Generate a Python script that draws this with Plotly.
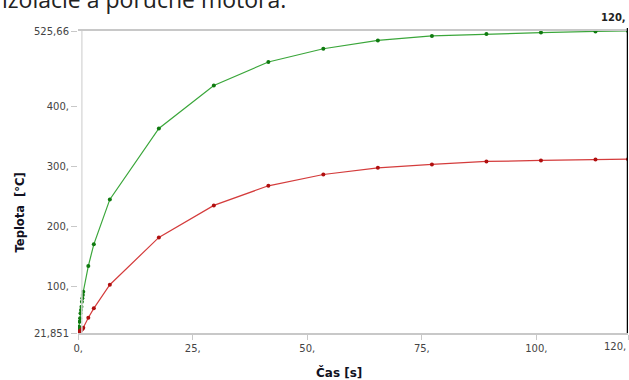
import plotly.graph_objects as go

# Data (time in s, temperature in °C)
time_s = [0, 0.1, 0.2, 0.3, 0.4, 0.5, 0.6, 0.7, 0.8, 0.9, 1.0, 1.1,
          2.2, 3.4, 6.9, 17.6, 29.6, 41.5, 53.5, 65.4, 77.2, 89.1, 101.0, 112.9, 120.0]
temp_max = [21.851, 26.9, 32.4, 40.7, 46.3, 54.7, 60.2, 65.7, 74.0, 79.7, 85.2, 90.7,
            133.5, 169.7, 244.7, 363.0, 434.7, 474.0, 496.0, 510.0, 517.4, 520.5, 523.0, 525.0, 525.66]
temp_min = [21.851, 22.6, 23.4, 24.2, 25.0, 25.8, 26.6, 27.4, 28.2, 29.0, 29.8, 30.6,
            47.4, 63.0, 102.4, 181.3, 234.7, 267.4, 286.3, 297.4, 303.0, 308.0, 309.7, 311.3, 311.8]

x_tickvals = [0, 25, 50, 75, 100, 120]
x_ticktext = ["0,", "25,", "50,", "75,", "100,", ""]
x_last_label = "120,"
y_tickvals = [21.851, 100, 200, 300, 400, 525.66]
y_ticktext = ["21,851", "100,", "200,", "300,", "400,", "525,66"]

fig = go.Figure()
fig.add_trace(go.Scatter(x=time_s, y=temp_max, mode="lines+markers",
                         line=dict(color="#3aa63a", width=1.2),
                         marker=dict(color="#0f7a0f", size=4), showlegend=False))
fig.add_trace(go.Scatter(x=time_s, y=temp_min, mode="lines+markers",
                         line=dict(color="#d43c3c", width=1.2),
                         marker=dict(color="#b00f0f", size=4), showlegend=False))

tick_font = dict(family="DejaVu Sans", size=10, color="#444444")

fig.update_layout(
    width=629, height=380,
    margin=dict(l=78, r=1, t=31, b=47),
    paper_bgcolor="white", plot_bgcolor="white",
    xaxis=dict(range=[-0.05, 120], tickvals=x_tickvals, ticktext=x_ticktext,
               showgrid=False, zeroline=False, showline=True, linecolor="#c8c8c8",
               linewidth=1.5, mirror=True, ticks="outside", ticklen=5, tickcolor="#c8c8c8",
               tickfont=tick_font),
    yaxis=dict(range=[21.851, 525.66], tickvals=y_tickvals, ticktext=y_ticktext,
               showgrid=False, zeroline=False, showline=False,
               ticks="outside", ticklen=6, tickcolor="#c8c8c8",
               tickfont=tick_font),
    shapes=[
        dict(type="line", xref="x", yref="paper", x0=0.8, x1=0.8, y0=0, y1=1,
             line=dict(color="#dcdcdc", width=1.5)),
        dict(type="line", xref="x", yref="paper", x0=120, x1=120, y0=0, y1=1.01,
             line=dict(color="black", width=2.5)),
    ],
    annotations=[
        dict(text="<b>120,</b>", xref="x", yref="paper", x=120, y=1.02,
             xanchor="right", yanchor="bottom", showarrow=False,
             font=dict(family="DejaVu Sans", size=10, color="#222222")),
        dict(text=x_last_label, xref="x", yref="paper", x=120, y=-0.02,
             xanchor="right", yanchor="top", showarrow=False,
             font=tick_font),
        dict(text="<b>Teplota  [°C]</b>", xref="paper", yref="paper", x=-0.105, y=0.40,
             textangle=-90, xanchor="center", yanchor="middle", showarrow=False,
             font=dict(family="DejaVu Sans", size=11.5, color="#111122")),
        dict(text="<b>Čas [s]</b>", xref="paper", yref="paper", x=0.475, y=-0.13,
             xanchor="center", yanchor="middle", showarrow=False,
             font=dict(family="DejaVu Sans", size=12, color="#111122")),
        dict(text="izolácie a poruche motora.", xref="paper", yref="paper", x=-0.142, y=1.105,
             xanchor="left", yanchor="middle", showarrow=False,
             font=dict(family="Open Sans", size=23, color="#222222")),
    ],
)

fig.write_html("out.html", config={"displayModeBar": False},
               post_script="document.body.style.margin='0';document.body.style.overflow='hidden';")
